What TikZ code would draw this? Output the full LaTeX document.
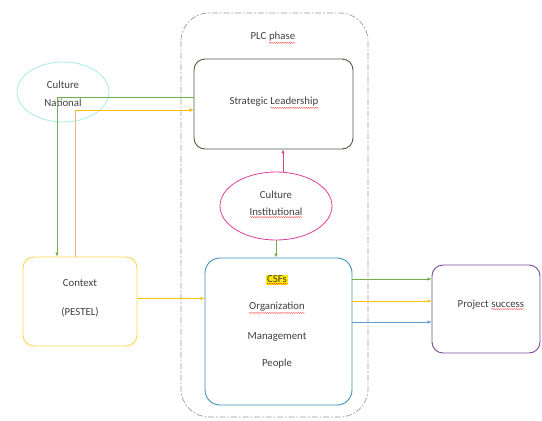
\documentclass[tikz,border=0pt]{standalone}
\usepackage{fontspec}
\setmainfont{Carlito}
\usetikzlibrary{arrows.meta,shapes.geometric,decorations.pathmorphing}
\definecolor{txt}{HTML}{404040}
\definecolor{cgreen}{HTML}{70AD47}
\definecolor{corange}{HTML}{FFC000}
\definecolor{cpeach}{HTML}{F4B183}
\definecolor{cblue}{HTML}{5B9BD5}
\definecolor{cpink}{HTML}{E0409A}
\definecolor{ccyan}{HTML}{A8ECE4}
\definecolor{csl}{HTML}{4A5E40}
\definecolor{cctx}{HTML}{FFD84A}
\definecolor{ccsf}{HTML}{3A92B8}
\definecolor{cps}{HTML}{7A4A9E}
\newcommand\sq[1]{\tikz[baseline=(sqw.base)]{\node[inner sep=0pt,outer sep=0pt](sqw){#1};\draw[red!85,line width=0.35pt,decorate,decoration={snake,amplitude=0.45pt,segment length=2.2pt}]([yshift=-1.2pt]sqw.south west)--([yshift=-1.2pt]sqw.south east);}}
\tikzset{
  box/.style={draw,rounded corners=11pt,line width=0.9pt,inner sep=0pt},
  ell/.style={draw,ellipse,line width=0.8pt,inner sep=0pt},
  lbl/.style={text=txt,font=\fontsize{10.8}{12}\selectfont,inner sep=1pt},
  arr/.style={line width=0.6pt,-{Latex[length=4pt,width=3.5pt]}},
}
\begin{document}
\begin{tikzpicture}[x=1pt,y=-1pt]
\useasboundingbox (0,0) rectangle (542,421);
\fill[white] (0,0) rectangle (542,421);
% PLC phase container
\draw[gray!80,line width=0.7pt,dash pattern=on 6pt off 2pt on 1.5pt off 2pt,rounded corners=28pt] (181,13) rectangle (368,417);
\node[lbl] (plc) at (273,38) {PLC \sq{phase}};
% boxes
\node[box,draw=csl,minimum width=159pt,minimum height=90pt] (SL) at (273.5,104) {};
\node[lbl] (SLt) at (274,103) {Strategic \sq{Leadership}};
\node[ell,draw=ccyan,minimum width=92pt,minimum height=60pt] (CN) at (63,92) {};
\node[lbl] (CN1) at (63,85) {Culture};
\node[lbl] (CN2) at (63,103) {National};
\node[ell,draw=cpink,minimum width=112pt,minimum height=68pt] (CI) at (276,206) {};
\node[lbl] (CI1) at (276,195) {Culture};
\node[lbl] (CI2) at (276,213) {\sq{Institutional}};
\node[box,draw=ccsf,rounded corners=15pt,minimum width=147pt,minimum height=147pt] (CSF) at (278.5,331.5) {};
\node[lbl,fill=yellow!90!orange,inner sep=0.8pt] (c1) at (277,280) {\sq{CSFs}};
\node[lbl] (c2) at (277,308) {\sq{Organization}};
\node[lbl] (c3) at (277,337) {Management};
\node[lbl] (c4) at (277,364) {People};
\node[box,draw=cctx,minimum width=114pt,minimum height=89pt] (Ctx) at (80,301.5) {};
\node[lbl] (x1) at (80,283) {Context};
\node[lbl] (x2) at (80,312) {(PESTEL)};
\node[box,draw=cps,minimum width=108pt,minimum height=88pt] (PS) at (486,309) {};
\node[lbl] (PSt) at (491,305) {Project \sq{success}};
% connectors
\draw[arr,cgreen] ([yshift=7pt]SL.west) -| ([xshift=-23pt]Ctx.north);
\draw[arr,cpeach] ([xshift=-5pt]Ctx.north) |- ([yshift=-6pt]SL.west);
\draw[arr,corange] ([xshift=-5pt,yshift=-6pt]Ctx.north |- SL.west) -- ([yshift=-6pt]SL.west);
\draw[arr,cpink] ([xshift=7pt]CI.north) -- ([xshift=7pt]CI.north |- SL.south);
\draw[arr,cgreen] (CI.south) -- (CI.south |- CSF.north);
\draw[arr,corange] ([yshift=3pt]Ctx.east) -- ([yshift=3pt]Ctx.east -| CSF.west);
\draw[arr,cgreen] ([yshift=30pt]PS.west -| CSF.east) -- ([yshift=30pt]PS.west);
\draw[arr,corange] ([yshift=8pt]PS.west -| CSF.east) -- ([yshift=8pt]PS.west);
\draw[arr,cblue] ([yshift=-13pt]PS.west -| CSF.east) -- ([yshift=-13pt]PS.west);
\end{tikzpicture}
\end{document}
